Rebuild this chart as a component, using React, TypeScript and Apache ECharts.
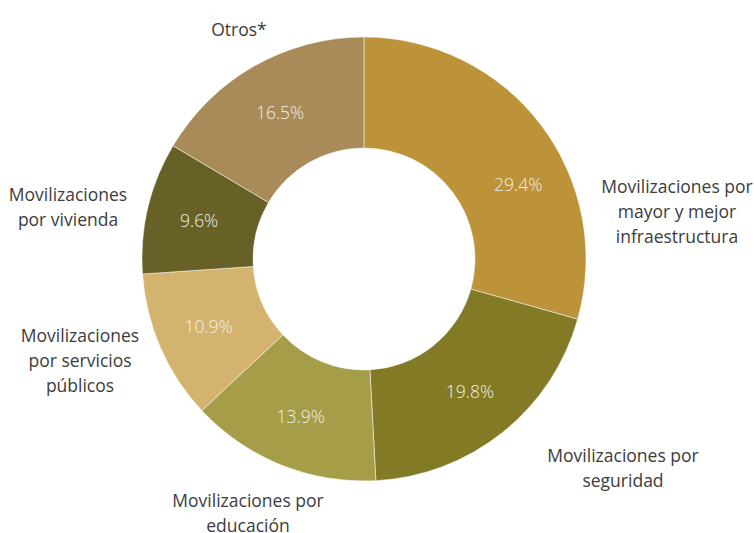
import React, { useEffect, useRef } from "react";
import * as echarts from "echarts";

const categories = [
  "Movilizaciones por\nmayor y mejor\ninfraestructura",
  "Movilizaciones por\nseguridad",
  "Movilizaciones por\neducación",
  "Movilizaciones\npor servicios\npúblicos",
  "Movilizaciones\npor vivienda",
  "Otros*",
];
const values = [29.4, 19.8, 13.9, 10.9, 9.6, 16.5];
const colors = ["#BC9339", "#827A25", "#A59D48", "#D4B36E", "#676027", "#A88B59"];
// label anchor points (px) for outer category labels
const labelPos = [
  [677, 211],
  [623, 467],
  [248, 512],
  [80, 360],
  [68, 206],
  [239, 29],
];
// small manual nudges for inner percentage labels
const pctNudge = [
  [19, 27],
  [0, 0],
  [0, 0],
  [0, 0],
  [0, 0],
  [0, 0],
];

export default function App() {
  const ref = useRef<HTMLDivElement>(null);
  useEffect(() => {
    document.body.style.margin = "0";
    if (!ref.current) return;
    const chart = echarts.init(ref.current, undefined, { renderer: "svg" });
    const data = values.map((v, i) => ({
      name: categories[i],
      value: v,
      itemStyle: { color: colors[i] },
    }));
    chart.setOption({
      animation: false,
      backgroundColor: "#ffffff",
      series: [
        {
          type: "pie",
          silent: true,
          center: [364, 259],
          radius: [111, 222],
          startAngle: 90,
          clockwise: true,
          data: values.map((v, i) => ({ name: categories[i], value: v })),
          itemStyle: { color: "transparent", borderWidth: 0 },
          label: {
            show: true,
            position: "outside",
            formatter: (p: any) => p.name,
            fontFamily: "Open Sans",
            fontSize: 17.5,
            lineHeight: 25,
            color: "#3c3c3c",
            align: "center",
            overflow: "none",
          },
          labelLine: { show: false },
          labelLayout: (p: any) => ({
            x: labelPos[p.dataIndex][0],
            y: labelPos[p.dataIndex][1],
            align: "center",
            verticalAlign: "middle",
          }),
          z: 1,
        },
        {
          type: "pie",
          silent: true,
          center: [364, 259],
          radius: [111, 222],
          startAngle: 90,
          clockwise: true,
          data,
          itemStyle: { borderColor: "#ffffff", borderWidth: 0.5 },
          label: {
            show: true,
            position: "inside",
            formatter: (p: any) => p.value.toFixed(1) + "%",
            fontFamily: "Open Sans",
            fontWeight: 300,
            fontSize: 17.5,
            color: "#F2EFE4",
          },
          labelLine: { show: false },
          labelLayout: (p: any) => ({
            dx: pctNudge[p.dataIndex][0],
            dy: pctNudge[p.dataIndex][1],
          }),
          z: 2,
        },
      ],
    });
    return () => chart.dispose();
  }, []);
  return <div ref={ref} style={{ width: 754, height: 533 }} />;
}
